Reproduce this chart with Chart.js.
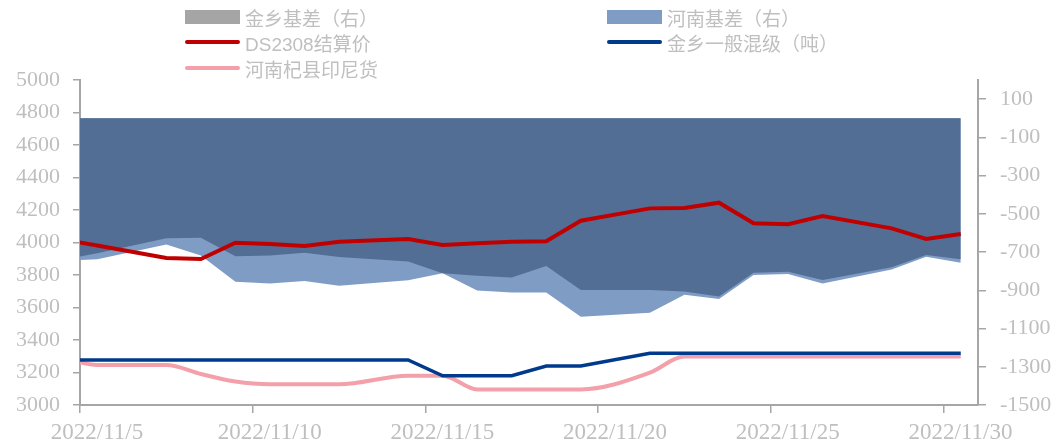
<!DOCTYPE html>
<html>
<head>
<meta charset="utf-8">
<script src="https://cdn.jsdelivr.net/npm/chart.js@4.4.1/dist/chart.umd.min.js"></script>
<style>
  body { margin: 0; background: #fff; }
  #wrap { position: relative; width: 1060px; height: 448px; }
  #legend { position: absolute; left: 0; top: 0; width: 1060px; height: 80px;
    font-family: "Liberation Sans", "Noto Sans CJK SC", sans-serif; font-size: 19px; color: #bfbfbf; }
  .lg { position: absolute; display: flex; align-items: center; white-space: nowrap; }
  .mk { width: 55px; margin-right: 5px; }
</style>
</head>
<body>
<div id="wrap">
  <canvas id="c" width="1060" height="448"></canvas>
  <div id="legend"></div>
</div>
<script>
// trading days shown (axis runs 11/5 .. 11/30, 11/4 is clipped at the left edge)
const dates = ['2022/11/4','2022/11/5','2022/11/7','2022/11/8','2022/11/9','2022/11/10','2022/11/11','2022/11/12',
  '2022/11/14','2022/11/15','2022/11/16','2022/11/17','2022/11/18','2022/11/19',
  '2022/11/21','2022/11/22','2022/11/23','2022/11/24','2022/11/25','2022/11/26',
  '2022/11/28','2022/11/29','2022/11/30'];

// right axis
const jinxiangBasis = [-740,-706,-628,-625,-722,-718,-704,-726,-750,-811,-824,-833,-773,-899,-899,-906,-932,-808,-803,-846,-780,-716,-738];
const henanBasis    = [-745,-738,-660,-718,-855,-864,-852,-876,-848,-811,-901,-911,-911,-1038,-1017,-923,-946,-820,-815,-864,-791,-725,-756];
// left axis
const ds2308        = [4019,3981,3905,3898,3999,3991,3978,4005,4022,3985,3995,4005,4008,4134,4210,4213,4245,4118,4112,4163,4087,4022,4052];
const jinxiangMixed = [3277,3277,3277,3277,3277,3277,3277,3277,3277,3180,3180,3180,3240,3240,3318,3318,3318,3318,3318,3318,3318,3318,3318];
const henanIndo     = [3290,3246,3246,3191,3144,3127,3127,3127,3180,3180,3096,3096,3096,3096,3199,3298,3298,3298,3298,3298,3298,3298,3298];

const leftTicks  = [3000,3200,3400,3600,3800,4000,4200,4400,4600,4800,5000];
const rightTicks = [-1500,-1300,-1100,-900,-700,-500,-300,-100,100];
const xTickDays  = [5,10,15,20,25,30];

const dayOf = s => +s.split('/')[2];
const pts = arr => arr.map((v, i) => ({ x: dayOf(dates[i]), y: v }));

const GRAY = '#bfbfbf', AXIS = '#a6a6a6';
const serif = '"Liberation Serif", "Times New Roman", serif';

const series = [
  { label: '金乡基差（右）', type: 'box', color: '#a5a5a5' },
  { label: '河南基差（右）', type: 'box', color: '#7f9cc4' },
  { label: 'DS2308结算价', type: 'line', color: '#c00000' },
  { label: '金乡一般混级（吨）', type: 'line', color: '#003a8c' },
  { label: '河南杞县印尼货', type: 'line', color: '#f4a0aa' }
];

// legend: two columns, three rows
const legendSlots = [[185, 17], [607, 17], [185, 42], [607, 42], [185, 68]];
const lg = document.getElementById('legend');
series.forEach((s, i) => {
  const [x, y] = legendSlots[i];
  const d = document.createElement('div');
  d.className = 'lg';
  d.style.left = x + 'px';
  d.style.top = (y - 12) + 'px';
  d.style.height = '24px';
  const mk = s.type === 'box'
    ? `<span class="mk" style="height:14px;background:${s.color}"></span>`
    : `<span class="mk" style="height:4px;border-radius:2px;background:${s.color}"></span>`;
  d.innerHTML = mk + `<span>${s.label}</span>`;
  lg.appendChild(d);
});

const noClipLeft = { left: 0, top: false, right: false, bottom: false };

new Chart(document.getElementById('c'), {
  type: 'line',
  data: {
    datasets: [
      { label: 'DS2308结算价', data: pts(ds2308), yAxisID: 'y', borderColor: '#c00000', borderWidth: 4,
        pointRadius: 0, order: 0, clip: noClipLeft },
      { label: '金乡一般混级（吨）', data: pts(jinxiangMixed), yAxisID: 'y', borderColor: '#003a8c', borderWidth: 3.5,
        pointRadius: 0, order: 0, clip: noClipLeft },
      { label: '河南杞县印尼货', data: pts(henanIndo), yAxisID: 'y', borderColor: '#f4a0aa', borderWidth: 4,
        pointRadius: 0, order: 0, cubicInterpolationMode: 'monotone', clip: noClipLeft },
      { label: '金乡基差（右）', data: pts(jinxiangBasis), yAxisID: 'y1', borderWidth: 0, backgroundColor: '#536e95',
        fill: 'origin', pointRadius: 0, order: 1, clip: noClipLeft },
      { label: '河南基差（右）', data: pts(henanBasis), yAxisID: 'y1', borderWidth: 0, backgroundColor: '#7f9cc4',
        fill: 'origin', pointRadius: 0, order: 2, clip: noClipLeft }
    ]
  },
  options: {
    responsive: false,
    animation: false,
    layout: { padding: { top: 80, left: 0, right: 0, bottom: 0 } },
    plugins: { legend: { display: false }, tooltip: { enabled: false } },
    scales: {
      x: {
        type: 'linear', min: 4.5, max: 30.5,
        afterBuildTicks: s => { s.ticks = xTickDays.map(d => ({ value: d - 0.5 })); },
        afterFit: s => { s.height = 43; },
        ticks: { autoSkip: false, maxRotation: 0, labelOffset: 17, padding: 6, color: GRAY,
          font: { family: serif, size: 23 },
          callback: v => '2022/11/' + (v + 0.5) },
        grid: { drawOnChartArea: false, drawTicks: true, tickLength: 8, color: AXIS, lineWidth: 1.5 },
        border: { color: AXIS, width: 2 }
      },
      y: {
        position: 'left', min: 3000, max: 5000,
        afterBuildTicks: s => { s.ticks = leftTicks.map(v => ({ value: v })); },
        afterFit: s => { s.width = 80; },
        ticks: { color: GRAY, padding: 13, font: { family: serif, size: 22 }, callback: v => String(v) },
        grid: { drawOnChartArea: false, tickLength: 7, color: AXIS, lineWidth: 1.5 },
        border: { color: AXIS, width: 2 }
      },
      y1: {
        position: 'right', min: -1500, max: 200,
        afterBuildTicks: s => { s.ticks = rightTicks.map(v => ({ value: v })); },
        afterFit: s => { s.width = 82; },
        ticks: { color: GRAY, padding: 14, font: { family: serif, size: 22 }, callback: v => String(v) },
        grid: { drawOnChartArea: false, tickLength: 8, color: AXIS, lineWidth: 1.5 },
        border: { color: AXIS, width: 2 }
      }
    }
  }
});
</script>
</body>
</html>
